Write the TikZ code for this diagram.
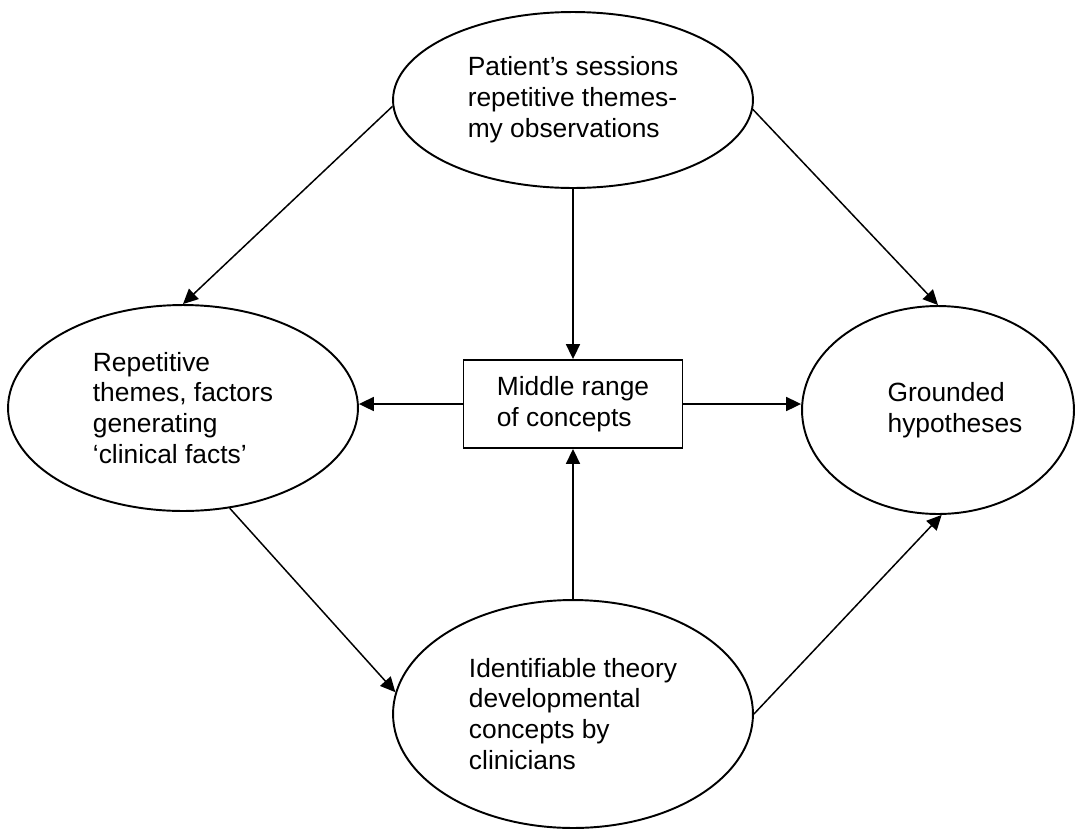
\documentclass[tikz,border=0pt]{standalone}
\usepackage{fontspec}
\setmainfont{Liberation Sans}
\usetikzlibrary{arrows.meta,shapes.geometric,positioning}
\tikzset{every picture/.style={line width=1.1pt}}
\tikzset{
  oval/.style={draw, ellipse, inner sep=0pt, align=left},
  box/.style={draw, rectangle, inner sep=0pt, align=left, minimum width=4.38cm, minimum height=1.76cm},
  arr/.style={-{Triangle[length=8.5pt,width=8pt]}, line width=0.85pt}
}

\begin{document}
\begin{tikzpicture}[x=0.02cm, y=-0.02cm, font=\fontsize{15}{17.6}\selectfont]
    \useasboundingbox (0,0) rectangle (1075,829);

    % 四个椭圆
    \node[oval, minimum width=7.2cm, minimum height=3.52cm] (sessions) at (573,100) {Patient’s sessions\\repetitive themes-\\my observations};
    \node[oval, minimum width=7.0cm, minimum height=4.12cm] (themes) at (183,408) {Repetitive\\themes, factors\\generating\\‘clinical facts’};
    \node[oval, minimum width=5.44cm, minimum height=4.16cm] (hypo) at (938,410) {};
    \node[align=left] (hypotext) at ([shift={(17,0)}]hypo.center) {Grounded\\hypotheses};
    \node[oval, minimum width=7.2cm, minimum height=4.56cm] (theory) at (573,714) {Identifiable theory\\developmental\\concepts by\\clinicians};

    % 中间的方框
    \node[box] (middle) at (573,404) {Middle range\\of concepts};

    % 从上面出发
    \draw[arr] (sessions.182.6) -- (themes.north);
    \draw[arr] (sessions.357.4) -- (hypo.north);
    \draw[arr] (sessions.south) -- (middle.north);

    % 方框到左右
    \draw[arr] (middle.west) -- (middle.west -| themes.east);
    \draw[arr] (middle.east) -- (middle.east -| hypo.west);

    % 从下面出发
    \draw[arr] (theory.north) -- (middle.south);
    \draw[arr] (themes.-65) -- (theory.173);
    \draw[arr] (theory.east) -- (hypo.272);
\end{tikzpicture}
\end{document}
